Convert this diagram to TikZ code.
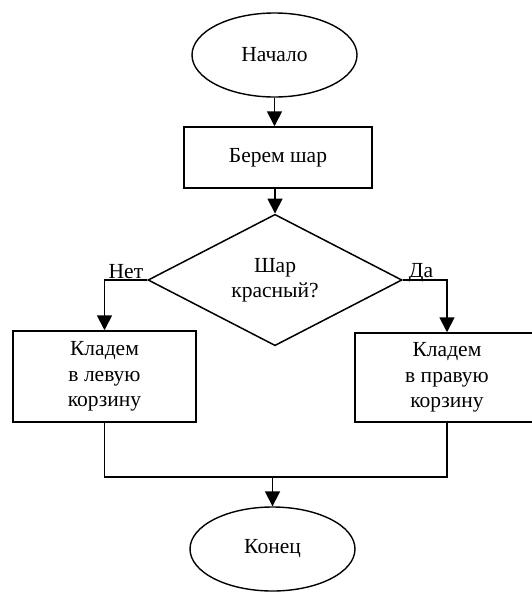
\documentclass[tikz,border=0pt]{standalone}
\usepackage{fontspec}
\setmainfont{Liberation Serif}
\usetikzlibrary{arrows.meta}
\usetikzlibrary{calc}
\usetikzlibrary{positioning}
\usetikzlibrary{shapes.geometric}

\begin{document}
\begin{tikzpicture}[x=1pt,y=-1pt,
    every node/.style={font=\fontsize{21.5}{25.5}\selectfont},
    term/.style={draw,ellipse,line width=1.4pt,minimum width=165pt,minimum height=84pt,inner sep=0pt},
    act/.style={draw,rectangle,line width=1.5pt,align=center,inner sep=0pt},
    cond/.style={draw,diamond,line width=1.5pt,align=center,inner sep=0pt,minimum width=254pt,minimum height=126pt},
    flow/.style={draw,line width=1.8pt,-{Triangle[length=15pt,width=15pt]}},
    link/.style={draw,line width=1.7pt}]

  \useasboundingbox (0,0) rectangle (531,592);

  \node [term] (start) at (274.5,55) {Начало};
  \node [act,minimum width=188pt,minimum height=61pt] (take) at (278,157.5) {Берем шар};
  \node [cond] (check) at (275,280) {Шар\\красный?};
  \node [act,minimum width=183pt,minimum height=91pt] (left) at (104.5,376.5) {Кладем\\в левую\\корзину};
  \node [act,minimum width=184pt,minimum height=89pt] (right) at (447,377.5) {Кладем\\в правую\\корзину};
  \node [term] (stop) at (272.5,549) {Конец};

  \coordinate (no)   at (left.north |- check.west);
  \coordinate (yes)  at (right.north |- check.east);
  \coordinate (join) at (stop.north |- 0,477);

  \node [anchor=base west,inner sep=0pt] (nolbl)  at ([xshift=4pt,yshift=2pt]no) {Нет};
  \node [anchor=base west,inner sep=0pt] (yeslbl) at ([xshift=6pt,yshift=3pt]check.east) {Да};

  \path [flow] (start) -- (start |- take.north);
  \path [flow] (take) -- (take.south -| check.north) -- (check.north);
  \path [flow] (check.west) -- (no) -- (left.north);
  \path [flow] (check.east) -- (yes) -- (right.north);
  \path [link] (left.south) -- (left.south |- join) -- (right.south |- join) -- (right.south);
  \path [flow] (join) -- (stop.north);

\end{tikzpicture}
\end{document}
